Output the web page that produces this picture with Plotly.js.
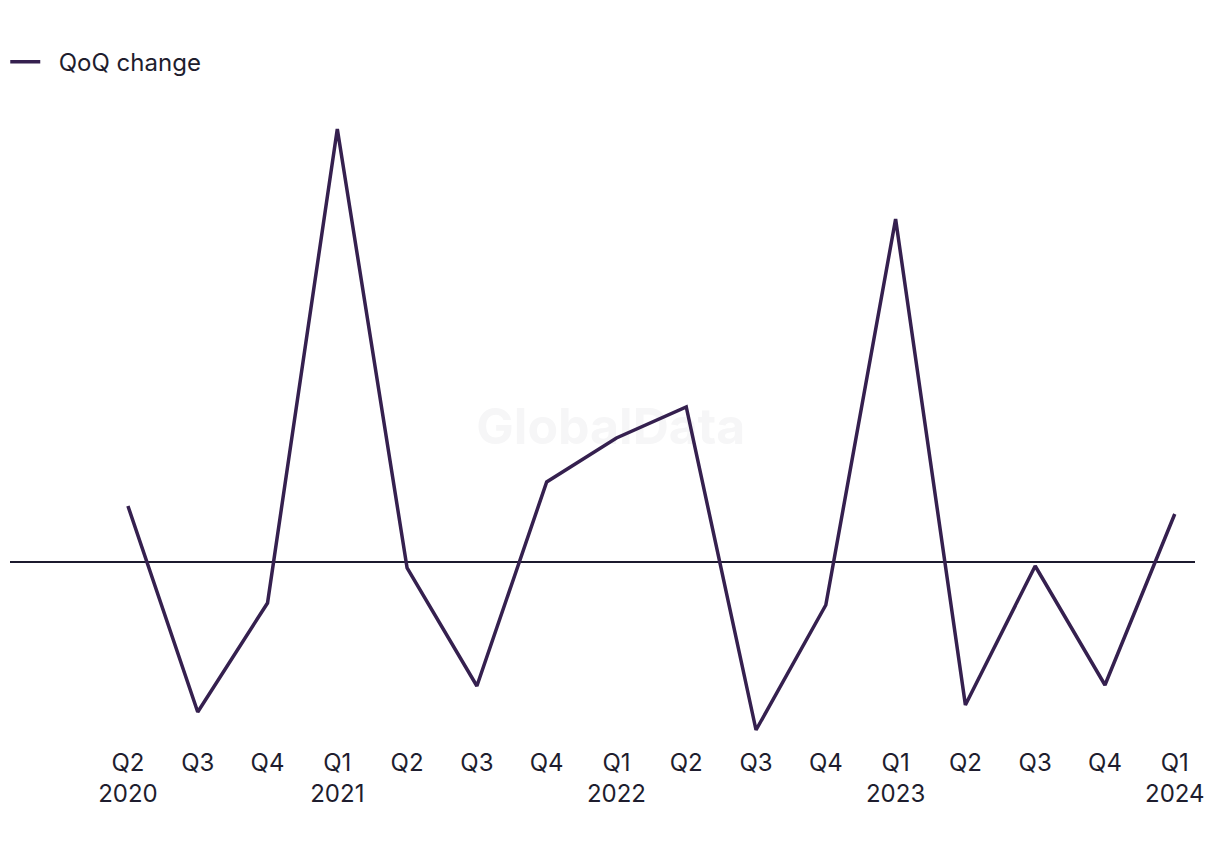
<!DOCTYPE html>
<html>
<head>
<meta charset="utf-8">
<script src="https://cdn.plot.ly/plotly-3.0.1.min.js"></script>
<style>html,body{margin:0;padding:0;background:#fff;}#chart{width:1220px;height:850px;}</style>
</head>
<body>
<div id="chart"></div>
<script>
const quarters = ["Q2<br>2020","Q3","Q4","Q1<br>2021","Q2","Q3","Q4","Q1<br>2022","Q2","Q3","Q4","Q1<br>2023","Q2","Q3","Q4","Q1<br>2024"];
const qoqChange = [5.6, -15.0, -4.1, 43.3, -0.6, -12.4, 8.0, 12.4, 15.5, -16.8, -4.3, 34.3, -14.3, -0.4, -12.3, 4.8];
const seriesName = "QoQ change";
const watermark = "GlobalData";

const xIdx = quarters.map((q, i) => i);
const xRange = [-1.69, 15.29];
const yRange = [-17.8, 46.2];

const wm = {
  x: [(xRange[0] + xRange[1]) / 2 + 0.12],
  y: [13.1],
  type: 'scatter', mode: 'text',
  text: ['<b>' + watermark + '</b>'],
  textfont: {size: 50, color: '#f6f6f7', family: 'Inter, Roboto, sans-serif'},
  showlegend: false, hoverinfo: 'skip'
};

const trace = {
  x: xIdx,
  y: qoqChange,
  type: 'scatter',
  mode: 'lines',
  name: '\u00a0\u00a0' + seriesName,
  line: {color: '#35204f', width: 3.5},
  hoverinfo: 'skip'
};

const layout = {
  width: 1220, height: 850,
  margin: {l: 10, r: 25, t: 100, b: 110},
  paper_bgcolor: '#fff', plot_bgcolor: '#fff',
  font: {family: 'Inter, Roboto, sans-serif', color: '#1e1d2e', size: 24},
  showlegend: true,
  legend: {x: -0.004, xanchor: 'left', yref: 'container', y: 0.927, yanchor: 'middle',
           font: {size: 24, color: '#1e1d2e'}, bgcolor: 'rgba(0,0,0,0)'},
  xaxis: {
    range: xRange,
    tickmode: 'array',
    tickvals: xIdx,
    ticktext: quarters,
    showgrid: false, zeroline: false, showline: false, ticks: '',
    ticklabelstandoff: 6,
    tickfont: {size: 24, color: '#1e1d2e'}
  },
  yaxis: {
    range: yRange,
    showgrid: false, showticklabels: false, ticks: '', showline: false,
    zeroline: true, zerolinecolor: '#1c1a2e', zerolinewidth: 1.5
  }
};

Plotly.newPlot('chart', [wm, trace], layout, {displayModeBar: false, staticPlot: true});
</script>
</body>
</html>
